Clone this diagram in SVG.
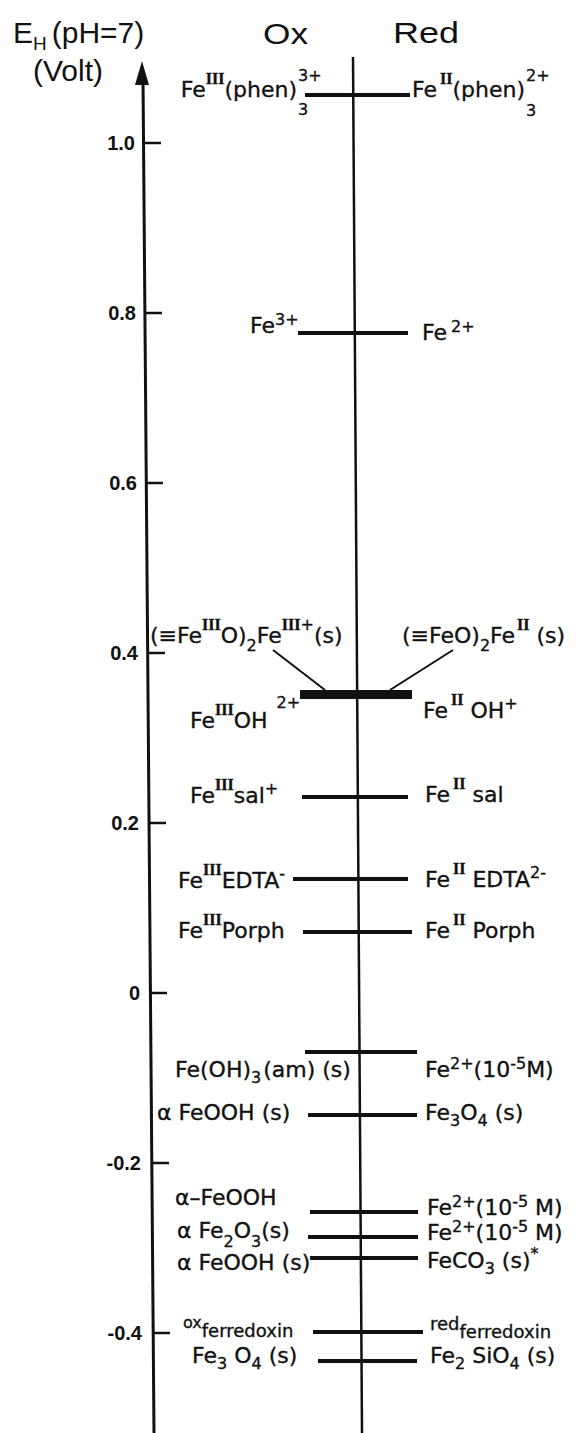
<svg xmlns="http://www.w3.org/2000/svg" width="584" height="1433" viewBox="0 0 584 1433">
<style>
.bg{fill:#fff}
.ax{stroke:#111;stroke-width:3;fill:none}
.tk{stroke:#111;stroke-width:2.5}
.cl{stroke:#111;stroke-width:2.5}
.lv{stroke:#111;stroke-width:4}
.ld{stroke:#111;stroke-width:2}
.h{font-family:"Liberation Sans",Arial,sans-serif;font-size:30px;fill:#111}
.n{font-family:"Liberation Sans",Arial,sans-serif;font-size:20px;font-weight:bold;fill:#111;text-anchor:end}
.t{font-family:"DejaVu Sans","Liberation Sans",sans-serif;font-size:22px;fill:#111;stroke:#111;stroke-width:0.35}
.r{font-family:"Liberation Serif","DejaVu Serif",serif;font-weight:bold;font-size:16px}
.s{font-size:16px}
.e{text-anchor:end}
</style>
<rect class="bg" x="0" y="0" width="584" height="1433"/>
<g id="header">
<text class="h" x="13" y="43">E<tspan font-size="19" dy="7">H</tspan><tspan dy="-7" dx="5">(pH=7)</tspan></text>
<text class="h" x="33" y="81">(Volt)</text>
<text class="h" x="263" y="44" textLength="45" lengthAdjust="spacingAndGlyphs">Ox</text>
<text class="h" x="393" y="43" textLength="66" lengthAdjust="spacingAndGlyphs">Red</text>
</g>
<g id="axis">
<line class="ax" x1="143" y1="78" x2="154" y2="1433"/>
<polygon points="142,61 135,85 149,85" fill="#111"/>
<line class="tk" x1="144" y1="143" x2="161" y2="143"/>
<line class="tk" x1="145" y1="313" x2="162" y2="313"/>
<line class="tk" x1="146" y1="483" x2="163" y2="483"/>
<line class="tk" x1="148" y1="653" x2="165" y2="653"/>
<line class="tk" x1="149" y1="823" x2="166" y2="823"/>
<line class="tk" x1="150" y1="993" x2="167" y2="993"/>
<line class="tk" x1="152" y1="1163" x2="169" y2="1163"/>
<line class="tk" x1="153" y1="1333" x2="170" y2="1333"/>
<text class="n" x="135" y="150">1.0</text>
<text class="n" x="136" y="320">0.8</text>
<text class="n" x="137" y="490">0.6</text>
<text class="n" x="138" y="660">0.4</text>
<text class="n" x="139" y="830">0.2</text>
<text class="n" x="140" y="1000">0</text>
<text class="n" x="141" y="1170">-0.2</text>
<text class="n" x="142" y="1340">-0.4</text>
</g>
<g id="center-line">
<line class="cl" x1="353" y1="57" x2="362" y2="1433"/>
</g>
<g id="phen">
<line class="lv" x1="305" y1="95" x2="410" y2="95"/>
<text class="t e" x="297" y="97">Fe<tspan class="r" dy="-13">III</tspan><tspan dy="13">(phen)</tspan></text>
<text class="t s" x="298" y="115">3</text>
<text class="t s" x="298" y="81">3+</text>
<text class="t" x="412" y="97">Fe<tspan class="r" dy="-13" dx="3">II</tspan><tspan dy="13">(phen)</tspan></text>
<text class="t s" x="526" y="116">3</text>
<text class="t s" x="526" y="81">2+</text>
</g>
<g id="fe3">
<line class="lv" x1="298" y1="333" x2="408" y2="333"/>
<text class="t" x="250" y="333">Fe<tspan class="s" dy="-8">3+</tspan></text>
<text class="t" x="422" y="340">Fe<tspan class="s" dy="-8" dx="4">2+</tspan></text>
</g>
<g id="surface">
<rect x="300" y="690" width="112" height="9" fill="#111"/>
<text class="t" x="150" y="643">(≡Fe<tspan class="r" dy="-13">III</tspan><tspan dy="13">O)</tspan><tspan class="s" dy="8">2</tspan><tspan dy="-8">Fe</tspan><tspan class="r" dy="-13">III</tspan><tspan class="s">+</tspan><tspan dy="13">(s)</tspan></text>
<text class="t" x="402" y="643">(≡FeO)<tspan class="s" dy="8">2</tspan><tspan dy="-8">Fe</tspan><tspan class="r" dy="-13" dx="2">II</tspan><tspan dy="13"> (s)</tspan></text>
</g>
<g id="feoh">
<text class="t" x="190" y="728">Fe<tspan class="r" dy="-13">III</tspan><tspan dy="13">OH</tspan><tspan class="s" dy="-20" dx="9">2+</tspan></text>
<text class="t" x="423" y="718">Fe<tspan class="r" dy="-13" dx="3">II</tspan><tspan dy="13"> OH</tspan><tspan class="s" dy="-9">+</tspan></text>
</g>
<g id="sal">
<line class="lv" x1="302" y1="797" x2="408" y2="797"/>
<text class="t" x="190" y="803">Fe<tspan class="r" dy="-13">III</tspan><tspan dy="13">sal</tspan><tspan class="s" dy="-9">+</tspan></text>
<text class="t" x="425" y="802">Fe<tspan class="r" dy="-13" dx="3">II</tspan><tspan dy="13"> sal</tspan></text>
</g>
<g id="edta">
<line class="lv" x1="293" y1="879" x2="408" y2="879"/>
<text class="t" x="178" y="888">Fe<tspan class="r" dy="-13">III</tspan><tspan dy="13">EDTA</tspan><tspan class="s" dy="-9">-</tspan></text>
<text class="t" x="425" y="887">Fe<tspan class="r" dy="-13" dx="3">II</tspan><tspan dy="13"> EDTA</tspan><tspan class="s" dy="-9">2-</tspan></text>
</g>
<g id="porph">
<line class="lv" x1="303" y1="932" x2="412" y2="932"/>
<text class="t" x="178" y="938">Fe<tspan class="r" dy="-13">III</tspan><tspan dy="13">Porph</tspan></text>
<text class="t" x="425" y="938">Fe<tspan class="r" dy="-13" dx="3">II</tspan><tspan dy="13"> Porph</tspan></text>
</g>
<g id="feoh3">
<line class="lv" x1="305" y1="1052" x2="417" y2="1052"/>
<text class="t" x="175" y="1077">Fe(OH)<tspan class="s" dy="6">3</tspan><tspan dy="-6" dx="2">(am) (s)</tspan></text>
<text class="t" x="425" y="1077">Fe<tspan class="s" dy="-8">2+</tspan><tspan dy="8">(10</tspan><tspan class="s" dy="-8">-5</tspan><tspan dy="8">M)</tspan></text>
</g>
<g id="goethite-magnetite">
<line class="lv" x1="308" y1="1115" x2="417" y2="1115"/>
<text class="t" x="157" y="1120">α FeOOH (s)</text>
<text class="t" x="425" y="1120">Fe<tspan class="s" dy="6">3</tspan><tspan dy="-6">O</tspan><tspan class="s" dy="6">4</tspan><tspan dy="-6"> (s)</tspan></text>
</g>
<g id="goethite-fe2">
<line class="lv" x1="310" y1="1212" x2="418" y2="1212"/>
<text class="t" x="175" y="1205">α–FeOOH</text>
<text class="t" x="427" y="1215">Fe<tspan class="s" dy="-8">2+</tspan><tspan dy="8">(10</tspan><tspan class="s" dy="-8">-5</tspan><tspan dy="8"> M)</tspan></text>
</g>
<g id="hematite-fe2">
<line class="lv" x1="308" y1="1237" x2="418" y2="1237"/>
<text class="t" x="177" y="1238">α Fe<tspan class="s" dy="9">2</tspan><tspan dy="-9">O</tspan><tspan class="s" dy="9">3</tspan><tspan dy="-9">(s)</tspan></text>
<text class="t" x="427" y="1240">Fe<tspan class="s" dy="-8">2+</tspan><tspan dy="8">(10</tspan><tspan class="s" dy="-8">-5</tspan><tspan dy="8"> M)</tspan></text>
</g>
<g id="goethite-siderite">
<line class="lv" x1="310" y1="1258" x2="418" y2="1258"/>
<text class="t" x="177" y="1270">α FeOOH (s)</text>
<text class="t" x="427" y="1268">FeCO<tspan class="s" dy="6">3</tspan><tspan dy="-6"> (s)</tspan><tspan class="s" dy="-9">*</tspan></text>
</g>
<g id="ferredoxin">
<line class="lv" x1="313" y1="1332" x2="423" y2="1332"/>
<text class="t" x="183" y="1328"><tspan font-size="16">ox</tspan><tspan font-size="18" dy="9">ferredoxin</tspan></text>
<text class="t" x="430" y="1330"><tspan font-size="18">red</tspan><tspan font-size="18" dy="8">ferredoxin</tspan></text>
</g>
<g id="magnetite-fayalite">
<line class="lv" x1="318" y1="1361" x2="417" y2="1361"/>
<text class="t" x="192" y="1363">Fe<tspan class="s" dy="6">3</tspan><tspan dy="-6"> O</tspan><tspan class="s" dy="6">4</tspan><tspan dy="-6"> (s)</tspan></text>
<text class="t" x="430" y="1363">Fe<tspan class="s" dy="6">2</tspan><tspan dy="-6"> SiO</tspan><tspan class="s" dy="6">4</tspan><tspan dy="-6"> (s)</tspan></text>
</g>
<g id="connectors">
<line class="ld" x1="273" y1="650" x2="325" y2="690"/>
<line class="ld" x1="453" y1="650" x2="390" y2="690"/>
</g>
</svg>
